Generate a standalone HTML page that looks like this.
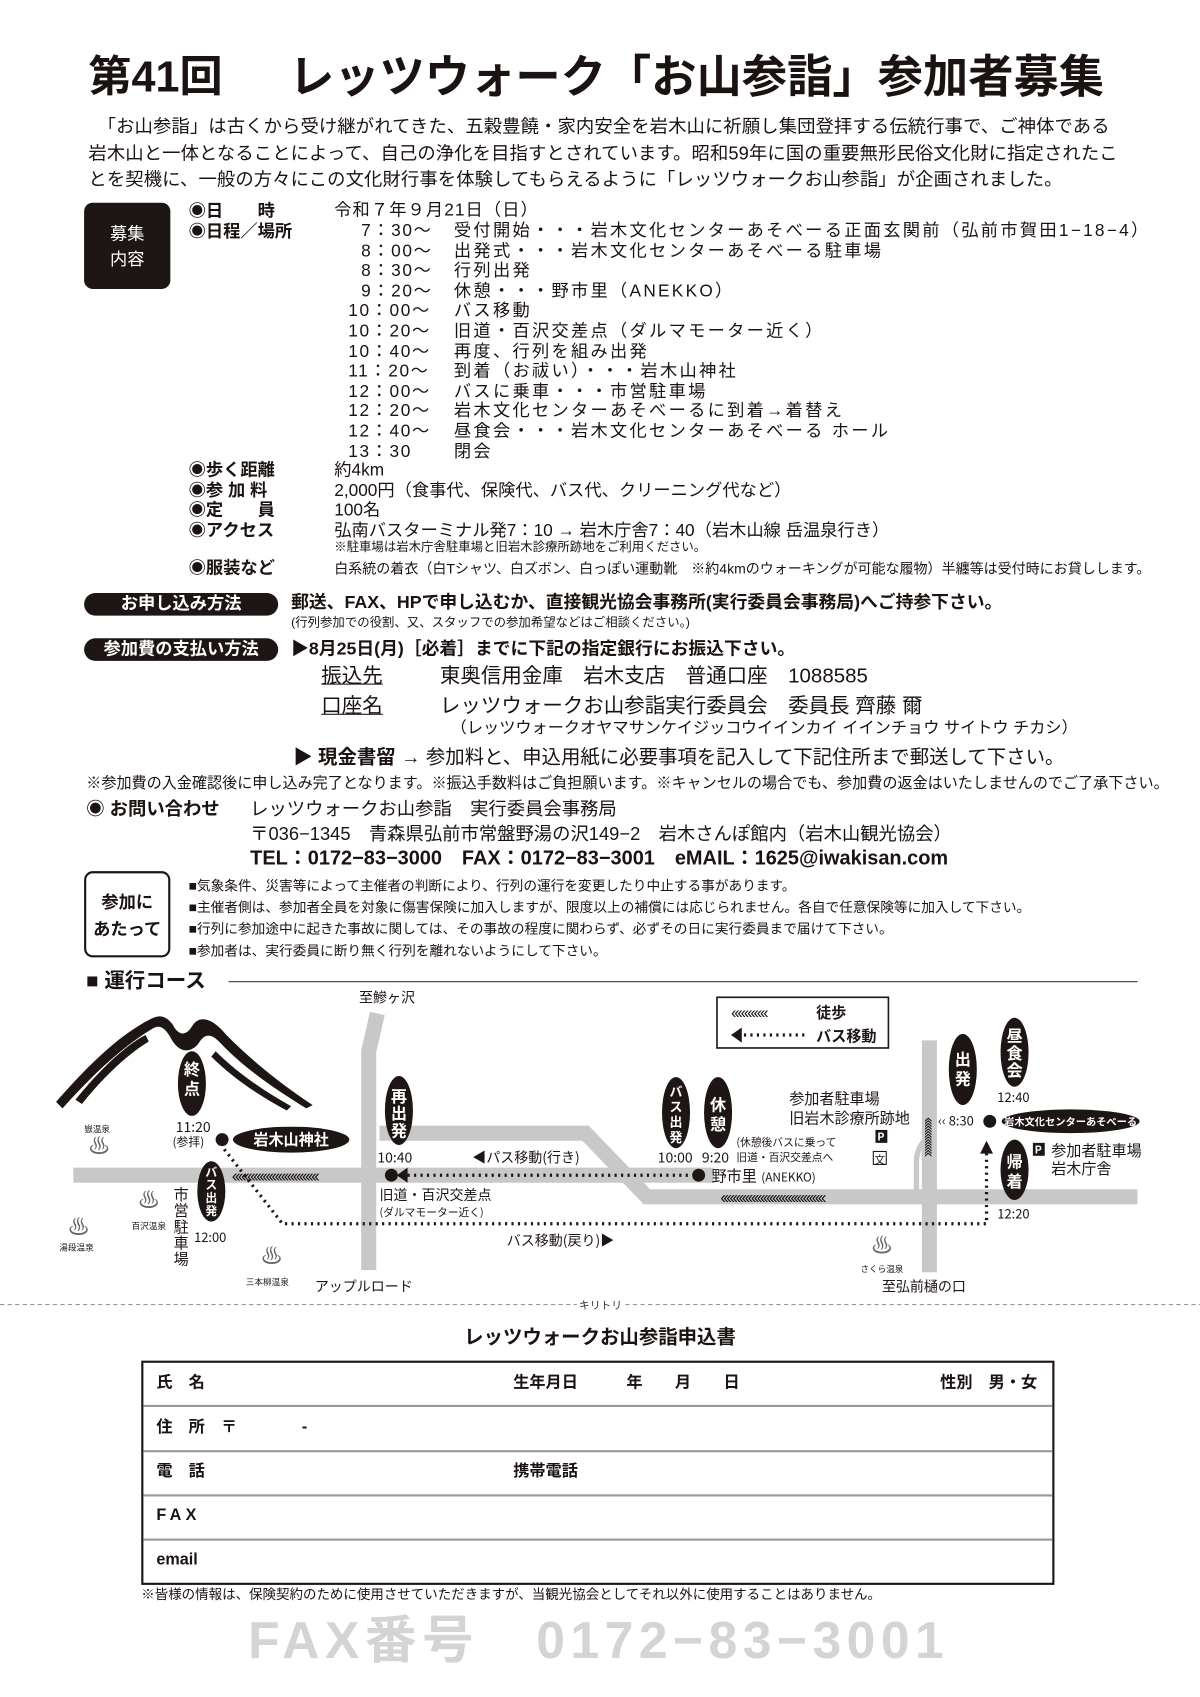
<!DOCTYPE html>
<html><head><meta charset="utf-8">
<style>
html,body{margin:0;padding:0;background:#fff;}
body{width:1200px;height:1697px;overflow:hidden;position:relative;}
#w{position:absolute;left:0;top:0;width:1113px;height:1574px;transform:scale(1.07817);transform-origin:0 0;font-family:"Liberation Sans","Noto Sans CJK JP",sans-serif;color:#1a1311;}
.t{position:absolute;white-space:nowrap;line-height:1;}
.b{font-weight:bold;}
.s16{font-size:16px;}
.box{position:absolute;background:#1e1614;color:#fff;border-radius:8px;}
.pill{position:absolute;background:#1e1614;color:#fff;border-radius:11px;font-weight:bold;font-size:16px;line-height:21px;text-align:center;}
</style></head><body><div id="w">

<div class="t b" style="left:82px;top:52px;font-size:40px;">第41回</div>
<div class="t b" style="left:268px;top:51px;font-size:42px;letter-spacing:0px;">レッツウォーク「お山参詣」参加者募集</div>

<div class="t" style="left:82px;top:106px;font-size:17px;line-height:24.5px;letter-spacing:0.1px;">　「お山参詣」は古くから受け継がれてきた、五穀豊饒・家内安全を岩木山に祈願し集団登拝する伝統行事で、ご神体である<br>岩木山と一体となることによって、自己の浄化を目指すとされています。昭和59年に国の重要無形民俗文化財に指定されたこ<br>とを契機に、一般の方々にこの文化財行事を体験してもらえるように「レッツウォークお山参詣」が企画されました。</div>

<div class="box" style="left:78px;top:188px;width:80px;height:80px;"><div class="t" style="left:0;width:80px;text-align:center;top:18px;font-size:16px;line-height:24px;">募集<br>内容</div></div>

<div class="t b s16" style="left:175px;top:188px;line-height:18.5px;">◉日　　時<br>◉日程／場所</div>
<div class="t s16" style="left:310px;top:188px;letter-spacing:1px;">令和７年９月21日（日）</div>
<div class="t s16" style="left:323px;top:206px;line-height:18.6px;letter-spacing:1.5px;">&nbsp;&nbsp;7：30～<br>&nbsp;&nbsp;8：00～<br>&nbsp;&nbsp;8：30～<br>&nbsp;&nbsp;9：20～<br>10：00～<br>10：20～<br>10：40～<br>11：20～<br>12：00～<br>12：20～<br>12：40～<br>13：30</div>
<div class="t s16" style="left:421px;top:206px;line-height:18.6px;letter-spacing:2.1px;">受付開始・・・岩木文化センターあそべーる正面玄関前（弘前市賀田1−18−4）<br>出発式・・・岩木文化センターあそべーる駐車場<br>行列出発<br>休憩・・・野市里（ANEKKO）<br>バス移動<br>旧道・百沢交差点（ダルマモーター近く）<br>再度、行列を組み出発<br>到着（お祓い）・・・岩木山神社<br>バスに乗車・・・市営駐車場<br>岩木文化センターあそべーるに到着→着替え<br>昼食会・・・岩木文化センターあそべーる ホール<br>閉会</div>
<div class="t b s16" style="left:175px;top:428px;line-height:18.5px;">◉歩く距離<br>◉参 加 料<br>◉定　　員<br>◉アクセス</div>
<div class="t s16" style="left:310px;top:428px;line-height:18.5px;">約4km<br>2,000円（食事代、保険代、バス代、クリーニング代など）<br>100名<br>弘南バスターミナル発7：10 → 岩木庁舎7：40（岩木山線 岳温泉行き）</div>
<div class="t" style="left:310px;top:503px;font-size:11.5px;">※駐車場は岩木庁舎駐車場と旧岩木診療所跡地をご利用ください。</div>
<div class="t b s16" style="left:175px;top:520px;">◉服装など</div>
<div class="t" style="left:310px;top:521px;font-size:13px;">白系統の着衣（白Tシャツ、白ズボン、白っぽい運動靴　※約4kmのウォーキングが可能な履物）半纏等は受付時にお貸しします。</div>

<div class="pill" style="left:78px;top:550px;width:180px;">お申し込み方法</div>
<div class="t b" style="left:270px;top:551px;font-size:16.5px;">郵送、FAX、HPで申し込むか、直接観光協会事務所(実行委員会事務局)へご持参下さい。</div>
<div class="t" style="left:270px;top:573px;font-size:11.5px;">(行列参加での役割、又、スタッフでの参加希望などはご相談ください。)</div>
<div class="pill" style="left:78px;top:592px;width:180px;">参加費の支払い方法</div>
<div class="t b" style="left:270px;top:594px;font-size:16.5px;">▶8月25日(月)［必着］までに下記の指定銀行にお振込下さい。</div>
<div class="t" style="left:298px;top:618px;font-size:19px;text-decoration:underline;">振込先</div>
<div class="t" style="left:408px;top:618px;font-size:19px;">東奥信用金庫　岩木支店　普通口座　1088585</div>
<div class="t" style="left:298px;top:646px;font-size:19px;text-decoration:underline;">口座名</div>
<div class="t" style="left:408px;top:646px;font-size:19px;">レッツウォークお山参詣実行委員会　委員長 齊藤 爾</div>
<div class="t" style="left:418px;top:668px;font-size:15px;">（レッツウォークオヤマサンケイジッコウイインカイ イインチョウ サイトウ チカシ）</div>
<div class="t" style="left:272px;top:693px;font-size:18px;"><b>▶ 現金書留</b> → 参加料と、申込用紙に必要事項を記入して下記住所まで郵送して下さい。</div>
<div class="t" style="left:80px;top:719px;font-size:14px;">※参加費の入金確認後に申し込み完了となります。※振込手数料はご負担願います。※キャンセルの場合でも、参加費の返金はいたしませんのでご了承下さい。</div>
<div class="t b" style="left:80px;top:742px;font-size:17px;">◉ お問い合わせ</div>
<div class="t" style="left:232px;top:742px;font-size:17px;">レッツウォークお山参詣　実行委員会事務局</div>
<div class="t" style="left:232px;top:765px;font-size:17px;">〒036−1345　青森県弘前市常盤野湯の沢149−2　岩木さんぽ館内（岩木山観光協会）</div>
<div class="t b" style="left:232px;top:787px;font-size:18.5px;">TEL：0172−83−3000　FAX：0172−83−3001　eMAIL：1625@iwakisan.com</div>

<div style="position:absolute;left:78px;top:808px;width:76px;height:76px;border:2px solid #1e1614;border-radius:8px;"><div class="t b" style="left:0;width:76px;text-align:center;top:15px;font-size:16px;line-height:25px;">参加に<br>あたって</div></div>
<div class="t" style="left:175px;top:812px;font-size:12.7px;line-height:20px;">■気象条件、災害等によって主催者の判断により、行列の運行を変更したり中止する事があります。<br>■主催者側は、参加者全員を対象に傷害保険に加入しますが、限度以上の補償には応じられません。各自で任意保険等に加入して下さい。<br>■行列に参加途中に起きた事故に関しては、その事故の程度に関わらず、必ずその日に実行委員まで届けて下さい。<br>■参加者は、実行委員に断り無く行列を離れないようにして下さい。</div>

<div class="t b" style="left:80px;top:901px;font-size:19px;">■ 運行コース</div>
<div style="position:absolute;left:212px;top:910px;width:843px;height:1px;background:#333;"></div>

<svg style="position:absolute;left:0;top:0" width="1113" height="1574" viewBox="0 0 1113 1574">
<g fill="none" stroke="#c8c8c8" stroke-width="14">
<path d="M350,940 L342,975 L342,1178"/>
<path d="M68,1090 L662,1090"/>
<path d="M352,1051 L543,1051 L600,1110 L1055,1110"/>
<path d="M862,965 L862,1180"/>
</g>
<path d="M850,1105 L850,1075 Q852,1060 862,1055" fill="none" stroke="#c8c8c8" stroke-width="5"/>
<g fill="#1e1614">
<path d="M52,1022 C80,990 110,960 140,945 C150,940 155,944 160,950 C165,960 172,962 178,952 C185,940 198,945 210,960 C235,985 260,1005 290,1025 L284,1028 C255,1010 228,992 205,968 C196,958 190,958 184,968 C176,978 165,976 158,962 C152,952 147,950 140,955 C112,972 85,998 58,1028 Z"/>
<path d="M70,1020 C90,995 115,970 135,960 L138,966 C118,978 95,1000 76,1024 Z"/>
<path d="M200,975 C220,995 245,1012 270,1026 L266,1030 C240,1016 216,1000 196,980 Z"/>
</g>
<rect x="665" y="925" width="159" height="47" fill="#fff" stroke="#1e1614" stroke-width="1.5"/>
<text x="678" y="944" font-size="15" fill="#1e1614" font-family="Liberation Sans" letter-spacing="-2">‹‹‹‹‹‹‹‹‹‹‹</text>
<text x="757" y="944" font-size="14" font-weight="bold" fill="#1e1614" font-family="Noto Sans CJK JP">徒歩</text>
<path d="M678,960 L688,953 L688,967 Z" fill="#1e1614"/>
<line x1="690" y1="960" x2="746" y2="960" stroke="#1e1614" stroke-width="3" stroke-dasharray="2,4"/>
<text x="757" y="966" font-size="14" font-weight="bold" fill="#1e1614" font-family="Noto Sans CJK JP">バス移動</text>
<g stroke="#1e1614" fill="none">
<line x1="372" y1="1090" x2="640" y2="1090" stroke-width="3" stroke-dasharray="2,4"/>
<path d="M208,1066 L262,1135 L915,1135 L915,1070" stroke-width="3" stroke-dasharray="2,4"/>
</g>
<path d="M368,1090 L378,1083 L378,1097 Z" fill="#1e1614"/>
<path d="M915,1058 L909,1070 L921,1070 Z" fill="#1e1614"/>
<text x="215" y="1096" font-size="16" fill="#1e1614" font-family="Liberation Sans" letter-spacing="-2.5">‹‹‹‹‹‹‹‹‹‹‹‹‹‹‹‹‹‹‹‹‹‹‹‹‹‹‹‹</text>
<text x="668" y="1116" font-size="16" fill="#1e1614" font-family="Liberation Sans" letter-spacing="-2.5">‹‹‹‹‹‹‹‹‹‹‹‹‹‹‹‹‹‹‹‹‹‹‹‹‹‹‹‹‹‹‹‹‹‹</text>
<text font-size="15" fill="#1e1614" font-family="Liberation Sans" transform="translate(857,1036) rotate(90)" letter-spacing="-2.5">‹‹‹‹‹‹‹‹‹‹‹‹‹‹</text>
<g fill="#1e1614">
<circle cx="206" cy="1057" r="6"/><circle cx="363" cy="1090" r="6"/><circle cx="648" cy="1090" r="6"/><circle cx="918" cy="1040" r="6"/>
<ellipse cx="178" cy="1005" rx="13" ry="30"/>
<ellipse cx="370" cy="1030" rx="13" ry="32"/>
<ellipse cx="627" cy="1032" rx="13" ry="33"/>
<ellipse cx="666" cy="1032" rx="13" ry="33"/>
<ellipse cx="893" cy="992" rx="13" ry="33"/>
<ellipse cx="941" cy="976" rx="13" ry="32"/>
<ellipse cx="941" cy="1085" rx="13" ry="28"/>
<ellipse cx="196" cy="1105" rx="13" ry="28"/>
<ellipse cx="270" cy="1057" rx="54" ry="12"/>
<ellipse cx="993" cy="1040" rx="64" ry="11"/>
<rect x="812" y="1048" width="11" height="12"/><rect x="958" y="1060" width="11" height="12"/>
</g>
<rect x="810" y="1068" width="12" height="12" fill="#fff" stroke="#1e1614"/>
<g font-family="Noto Sans CJK JP" font-weight="bold" fill="#fff" font-size="15" text-anchor="middle">
<text x="178" y="997">終</text><text x="178" y="1015">点</text>
<text x="370" y="1022">再</text><text x="370" y="1038">出</text><text x="370" y="1054">発</text>
<text x="627" y="1017" font-size="12">バ</text><text x="627" y="1031" font-size="12">ス</text><text x="627" y="1045" font-size="12">出</text><text x="627" y="1059" font-size="12">発</text>
<text x="666" y="1030">休</text><text x="666" y="1048">憩</text>
<text x="893" y="988">出</text><text x="893" y="1006">発</text>
<text x="941" y="966">昼</text><text x="941" y="982">食</text><text x="941" y="998">会</text>
<text x="941" y="1083">帰</text><text x="941" y="1101">着</text>
<text x="196" y="1091" font-size="11">バ</text><text x="196" y="1103" font-size="11">ス</text><text x="196" y="1115" font-size="11">出</text><text x="196" y="1127" font-size="11">発</text>
<text x="270" y="1062" font-size="14">岩木山神社</text>
<text x="993" y="1044" font-size="9.5">岩木文化センターあそべーる</text>
<text x="817" y="1058" font-size="10">P</text><text x="963" y="1070" font-size="10">P</text>
</g>
<g font-family="Noto Sans CJK JP" fill="#1e1614" font-size="13">
<text x="333" y="930">至鰺ヶ沢</text>
<text x="163" y="1050">11:20</text><text x="160" y="1063" font-size="11">(参拝)</text>
<text x="350" y="1078">10:40</text>
<text x="438" y="1078">◀パス移動(行き)</text>
<text x="352" y="1113">旧道・百沢交差点</text><text x="352" y="1128" font-size="10">(ダルマモーター近く)</text>
<text x="470" y="1155">バス移動(戻り)▶</text>
<text x="610" y="1078">10:00</text><text x="651" y="1078">9:20</text>
<text x="683" y="1063" font-size="10">(休憩後バスに乗って</text><text x="683" y="1077" font-size="10">旧道・百沢交差点へ</text>
<text x="660" y="1096" font-size="14">野市里</text><text x="706" y="1096" font-size="11">(ANEKKO)</text>
<text x="732" y="1024" font-size="14">参加者駐車場</text><text x="732" y="1042" font-size="14">旧岩木診療所跡地</text>
<text x="811" y="1079" font-size="10">文</text>
<text x="870" y="1044" font-size="12">‹‹ 8:30</text>
<text x="925" y="1022" font-size="12">12:40</text>
<text x="925" y="1130" font-size="12">12:20</text>
<text x="975" y="1072" font-size="14">参加者駐車場</text><text x="975" y="1089" font-size="14">岩木庁舎</text>
<text x="292" y="1198">アップルロード</text>
<text x="818" y="1198">至弘前樋の口</text>
<text x="161" y="1113" font-size="14">市</text><text x="161" y="1128" font-size="14">営</text><text x="161" y="1143" font-size="14">駐</text><text x="161" y="1158" font-size="14">車</text><text x="161" y="1173" font-size="14">場</text>
<text x="180" y="1152" font-size="12">12:00</text>
<g font-size="8"><text x="78" y="1050">嶽温泉</text><text x="122" y="1140">百沢温泉</text><text x="55" y="1160">湯段温泉</text><text x="228" y="1192">三本柳温泉</text><text x="798" y="1180">さくら温泉</text></g>
<g font-size="20" fill="#666" text-anchor="middle"><text x="92" y="1070">♨</text><text x="138" y="1120">♨</text><text x="73" y="1145">♨</text><text x="252" y="1172">♨</text><text x="818" y="1162">♨</text></g>
</g>
<line x1="0" y1="1210" x2="535" y2="1210" stroke="#999" stroke-dasharray="4,3"/>
<line x1="580" y1="1210" x2="1113" y2="1210" stroke="#999" stroke-dasharray="4,3"/>
<text x="557" y="1214" font-size="10" text-anchor="middle" fill="#333" font-family="Noto Sans CJK JP">キリトリ</text>
</svg>

<div class="t b" style="left:0;width:1113px;text-align:center;top:1231px;font-size:18px;">レッツウォークお山参詣申込書</div>
<div style="position:absolute;left:131px;top:1262px;width:843px;height:204px;border:2px solid #1e1614;"></div>
<div style="position:absolute;left:133px;top:1303px;width:843px;height:1.5px;background:#999;"></div>
<div style="position:absolute;left:133px;top:1345px;width:843px;height:1.5px;background:#999;"></div>
<div style="position:absolute;left:133px;top:1386px;width:843px;height:1.5px;background:#999;"></div>
<div style="position:absolute;left:133px;top:1427px;width:843px;height:1.5px;background:#999;"></div>
<div class="t b" style="left:145px;top:1275px;font-size:15px;">氏　名</div>
<div class="t b" style="left:476px;top:1275px;font-size:15px;">生年月日　　　年　　月　　日</div>
<div class="t b" style="left:872px;top:1275px;font-size:15px;">性別　男・女</div>
<div class="t b" style="left:145px;top:1316px;font-size:15px;">住　所　〒　　　　-</div>
<div class="t b" style="left:145px;top:1357px;font-size:15px;">電　話</div>
<div class="t b" style="left:476px;top:1357px;font-size:15px;">携帯電話</div>
<div class="t b" style="left:145px;top:1398px;font-size:15px;letter-spacing:4px;">FAX</div>
<div class="t b" style="left:145px;top:1439px;font-size:15px;">email</div>
<div class="t" style="left:131px;top:1473px;font-size:12.5px;">※皆様の情報は、保険契約のために使用させていただきますが、当観光協会としてそれ以外に使用することはありません。</div>
<div class="t b" style="left:230px;top:1499px;font-size:48px;color:#d4d4d4;letter-spacing:5px;">FAX番号　0172−83−3001</div>
</div></body></html>
